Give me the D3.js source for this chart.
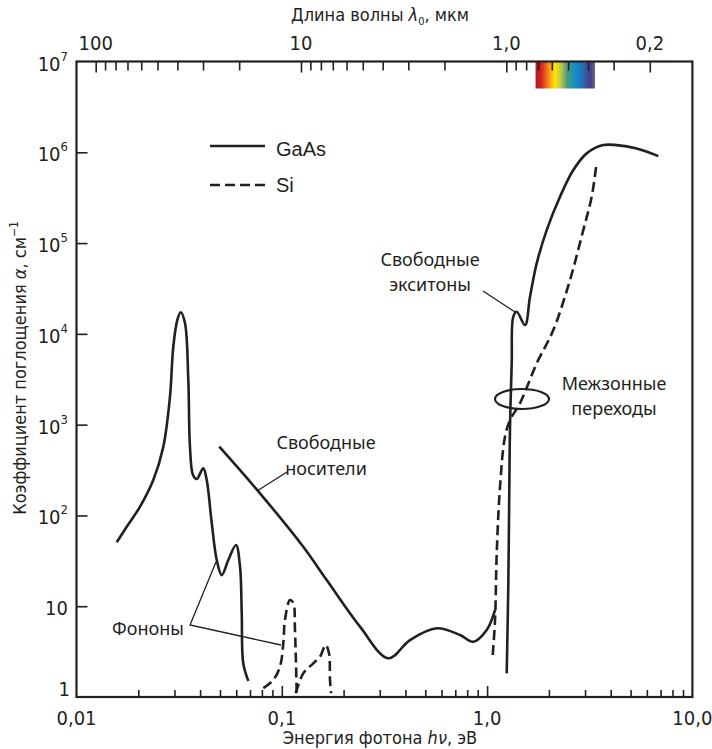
<!DOCTYPE html>
<html>
<head>
<meta charset="utf-8">
<script src="https://cdn.jsdelivr.net/npm/d3@7"></script>
<style>
body { margin: 0; background: #fff; }
text { font-family: "Liberation Sans Narrow", "DejaVu Sans Condensed", "Liberation Sans", sans-serif; fill: #231f20; }
.note { font-family: "Noto Sans", "Liberation Sans", sans-serif; }
.leg { font-family: "Liberation Sans", sans-serif; }
</style>
</head>
<body>
<svg width="712" height="749"></svg>
<script>
// photon energy (eV) / absorption (1/cm)
var gaasPhononE = [0.0157, 0.01756, 0.0204, 0.02366, 0.02648, 0.02853, 0.02961, 0.03097, 0.03218, 0.03377, 0.03504, 0.0357, 0.03693, 0.0385, 0.04145, 0.04308, 0.0456, 0.0482, 0.051, 0.0549, 0.0598, 0.0626, 0.0638, 0.0649, 0.0687];
var gaasPhononA = [50.6, 75, 125, 245, 571, 2030, 7210, 14200, 17300, 13060, 3100, 571, 279, 252, 330, 245, 81.8, 32.3, 22, 32.3, 47.2, 27.2, 8.35, 2.35, 1.5];

var gaasCarrierE = [0.0496, 0.0783, 0.1272, 0.1655, 0.2404, 0.3302, 0.4211, 0.568, 0.7379, 0.8564, 0.9954, 1.093];
var gaasCarrierA = [571, 175, 45.2, 19.4, 5.95, 2.67, 4.24, 5.71, 4.82, 4.06, 5.47, 9.08];

var gaasEdgeE = [1.246, 1.268, 1.283, 1.293, 1.318, 1.341, 1.394, 1.53, 1.618, 1.744, 1.951, 2.265, 2.63, 3.056, 3.681, 4.279, 5.355, 6.823];
var gaasEdgeA = [1.82, 16.4, 207, 948, 4730, 15400, 17500, 12500, 25600, 59700, 139000, 324000, 637000, 973000, 1.2e6, 1.2e6, 1.1e6, 9.08e5];

var siPhonon1E = [0.0813, 0.0909, 0.098, 0.1017, 0.1036, 0.1096, 0.1138, 0.1159, 0.1182];
var siPhonon1A = [1.25, 1.54, 2.16, 3.9, 7.05, 11.7, 10.8, 5.47, 1.1];

var siPhonon2E = [0.1169, 0.1272, 0.1423, 0.1535, 0.1636, 0.1698, 0.1717, 0.1737];
var siPhonon2A = [1.1, 1.82, 2.35, 2.78, 3.74, 3.03, 1.54, 1.1];

var siEdgeE = [1.065, 1.093, 1.114, 1.156, 1.222, 1.293, 1.446, 1.744, 2.101, 2.533, 2.941, 3.232, 3.419];
var siEdgeA = [2.9, 7.05, 38.3, 207, 736, 1124, 1718, 4730, 11000, 39100, 139000, 324000, 786000];

var energyTicks = [0.01, 0.1, 1, 10];
var energyLabels = ["0,01", "0,1", "1,0", "10,0"];
var waveTicks = [100, 10, 1, 0.2];
var waveLabels = ["100", "10", "1,0", "0,2"];
var alphaTicks = [1, 10, 100, 1e3, 1e4, 1e5, 1e6, 1e7];
var alphaExp = ["", "", "2", "3", "4", "5", "6", "7"];
var alphaBase = ["1", "10", "10", "10", "10", "10", "10", "10"];

var svg = d3.select("svg");
// plot frame (note: "top" is taken by window.top)
var pLeft = 76.5, pRight = 692.4, pTop = 61.5, pBottom = 697;

var x = d3.scaleLog().domain([0.01, 10]).range([pLeft, pRight]);
var y = d3.scaleLog().domain([1, 1e7]).range([pBottom, pTop]);
// wavelength in um, E = 1.24 / lambda
var xl = d3.scaleLog().domain([124, 0.124]).range([pLeft, pRight]);

function zip(a, b) { return a.map(function(v, i) { return [v, b[i]]; }); }

// spectrum strip
var grad = svg.append("defs").append("linearGradient").attr("id", "spec");
[[0, "#a2192e"], [0.1, "#d9251d"], [0.22, "#f58a1f"], [0.33, "#ffe600"], [0.43, "#b8c84f"],
 [0.53, "#4f9a78"], [0.68, "#0a8fcf"], [0.82, "#2f63a8"], [0.92, "#4a3d8a"], [1, "#6b5b8b"]]
  .forEach(function(s) { grad.append("stop").attr("offset", s[0]).attr("stop-color", s[1]); });
svg.append("rect")
  .attr("x", xl(0.72)).attr("y", pTop)
  .attr("width", xl(0.37) - xl(0.72)).attr("height", 27)
  .attr("fill", "url(#spec)");

// ticks (inward)
var eMinor = [], wMinor = [];
[0.01, 0.1, 1].forEach(function(d) { for (var k = 2; k <= 9; k++) eMinor.push(d * k); });
[10, 1].forEach(function(d) { for (var k = 2; k <= 9; k++) wMinor.push(d * k); });
[0.3, 0.4, 0.5, 0.6, 0.7, 0.8, 0.9].forEach(function(d) { wMinor.push(d); });

function tickAxis(axis, tr) {
  var g = svg.append("g").attr("transform", tr).call(axis);
  g.select(".domain").remove();
  g.selectAll(".tick line").attr("stroke", "#231f20").attr("stroke-width", 1.6);
  return g;
}
tickAxis(d3.axisBottom(x).tickValues(eMinor).tickSize(-7).tickFormat(""), "translate(0," + pBottom + ")");
tickAxis(d3.axisBottom(x).tickValues([0.1, 1]).tickSize(-11).tickFormat(""), "translate(0," + pBottom + ")");
tickAxis(d3.axisTop(xl).tickValues(wMinor).tickSize(-9).tickFormat(""), "translate(0," + pTop + ")");
tickAxis(d3.axisTop(xl).tickValues([100, 10, 1, 0.2]).tickSize(-11).tickFormat(""), "translate(0," + pTop + ")");
tickAxis(d3.axisLeft(y).tickValues(alphaTicks.slice(1, 7)).tickSize(-11).tickFormat(""), "translate(" + pLeft + ",0)");

// frame
svg.append("rect")
  .attr("x", pLeft).attr("y", pTop).attr("width", pRight - pLeft).attr("height", pBottom - pTop)
  .attr("fill", "none").attr("stroke", "#231f20").attr("stroke-width", 2.2);

// tick labels
svg.selectAll(".elab").data(energyTicks).enter().append("text")
  .attr("x", function(d) { return x(d); }).attr("y", 725)
  .attr("text-anchor", "middle").attr("font-size", 20)
  .text(function(d, i) { return energyLabels[i]; });
svg.selectAll(".wlab").data(waveTicks).enter().append("text")
  .attr("x", function(d) { return xl(d); }).attr("y", 50)
  .attr("text-anchor", "middle").attr("font-size", 20)
  .text(function(d, i) { return waveLabels[i]; });
var yl = svg.selectAll(".alab").data(alphaTicks).enter().append("text")
  .attr("x", function(d, i) { return i == 0 ? 70 : 68; })
  .attr("y", function(d, i) { return i == 0 ? y(d) - 1 : y(d) + 9; })
  .attr("text-anchor", "end").attr("font-size", 20);
yl.append("tspan").text(function(d, i) { return alphaBase[i]; });
yl.append("tspan").attr("dy", -10).attr("font-size", 13).text(function(d, i) { return alphaExp[i]; });

// axis titles
var t1 = svg.append("text").attr("x", 380).attr("y", 21).attr("text-anchor", "middle").attr("font-size", 18);
t1.append("tspan").text("Длина волны ");
t1.append("tspan").attr("font-style", "italic").text("λ");
t1.append("tspan").attr("font-size", 11).attr("dy", 4).text("0");
t1.append("tspan").attr("dy", -4).text(", мкм");

var t2 = svg.append("text").attr("x", 380).attr("y", 744).attr("text-anchor", "middle").attr("font-size", 18);
t2.append("tspan").text("Энергия фотона ");
t2.append("tspan").attr("font-style", "italic").text("hν");
t2.append("tspan").text(", эВ");

var t3 = svg.append("text").attr("transform", "translate(26,368) rotate(-90)")
  .attr("text-anchor", "middle").attr("font-size", 18);
t3.append("tspan").text("Коэффициент поглощения ");
t3.append("tspan").attr("font-style", "italic").text("α");
t3.append("tspan").text(", см");
t3.append("tspan").attr("dy", -8).attr("font-size", 12).text("−1");

// curves
var line = d3.line()
  .x(function(d) { return x(d[0]); })
  .y(function(d) { return y(d[1]); })
  .curve(d3.curveCatmullRom.alpha(0.5));

[[gaasPhononE, gaasPhononA], [gaasCarrierE, gaasCarrierA], [gaasEdgeE, gaasEdgeA]].forEach(function(s) {
  svg.append("path").attr("d", line(zip(s[0], s[1])))
    .attr("fill", "none").attr("stroke", "#231f20").attr("stroke-width", 2.6);
});
[[siPhonon1E, siPhonon1A], [siPhonon2E, siPhonon2A], [siEdgeE, siEdgeA]].forEach(function(s) {
  svg.append("path").attr("d", line(zip(s[0], s[1])))
    .attr("fill", "none").attr("stroke", "#231f20").attr("stroke-width", 2.6)
    .attr("stroke-dasharray", "10,5");
});

// legend
svg.append("line").attr("x1", 210).attr("x2", 265).attr("y1", 146).attr("y2", 146)
  .attr("stroke", "#231f20").attr("stroke-width", 2.6);
svg.append("line").attr("x1", 210).attr("x2", 265).attr("y1", 185).attr("y2", 185)
  .attr("stroke", "#231f20").attr("stroke-width", 2.6).attr("stroke-dasharray", "10,5");
svg.append("text").attr("class", "leg").attr("x", 276).attr("y", 156).attr("font-size", 20).text("GaAs");
svg.append("text").attr("class", "leg").attr("x", 276).attr("y", 192).attr("font-size", 20).text("Si");

// annotations
function note(lines, cx, cy, dy) {
  var t = svg.append("text").attr("class", "note").attr("text-anchor", "middle").attr("font-size", 18);
  lines.forEach(function(s, i) { t.append("tspan").attr("x", cx).attr("y", cy + i * dy).text(s); });
}
function pointer(pts) {
  svg.append("path").attr("d", d3.line()(pts)).attr("fill", "none")
    .attr("stroke", "#231f20").attr("stroke-width", 1.3);
}
note(["Свободные", "носители"], 326, 449, 26);
pointer([[257, 491], [287, 472]]);
note(["Свободные", "экситоны"], 430, 266, 25);
pointer([[483, 291], [515, 312]]);
note(["Межзонные", "переходы"], 614, 390, 25);
svg.append("ellipse").attr("cx", 522).attr("cy", 399).attr("rx", 27).attr("ry", 10)
  .attr("fill", "none").attr("stroke", "#231f20").attr("stroke-width", 2.2);
note(["Фононы"], 148, 635, 0);
pointer([[216, 562], [190, 625], [281, 645]]);
</script>
</body>
</html>
